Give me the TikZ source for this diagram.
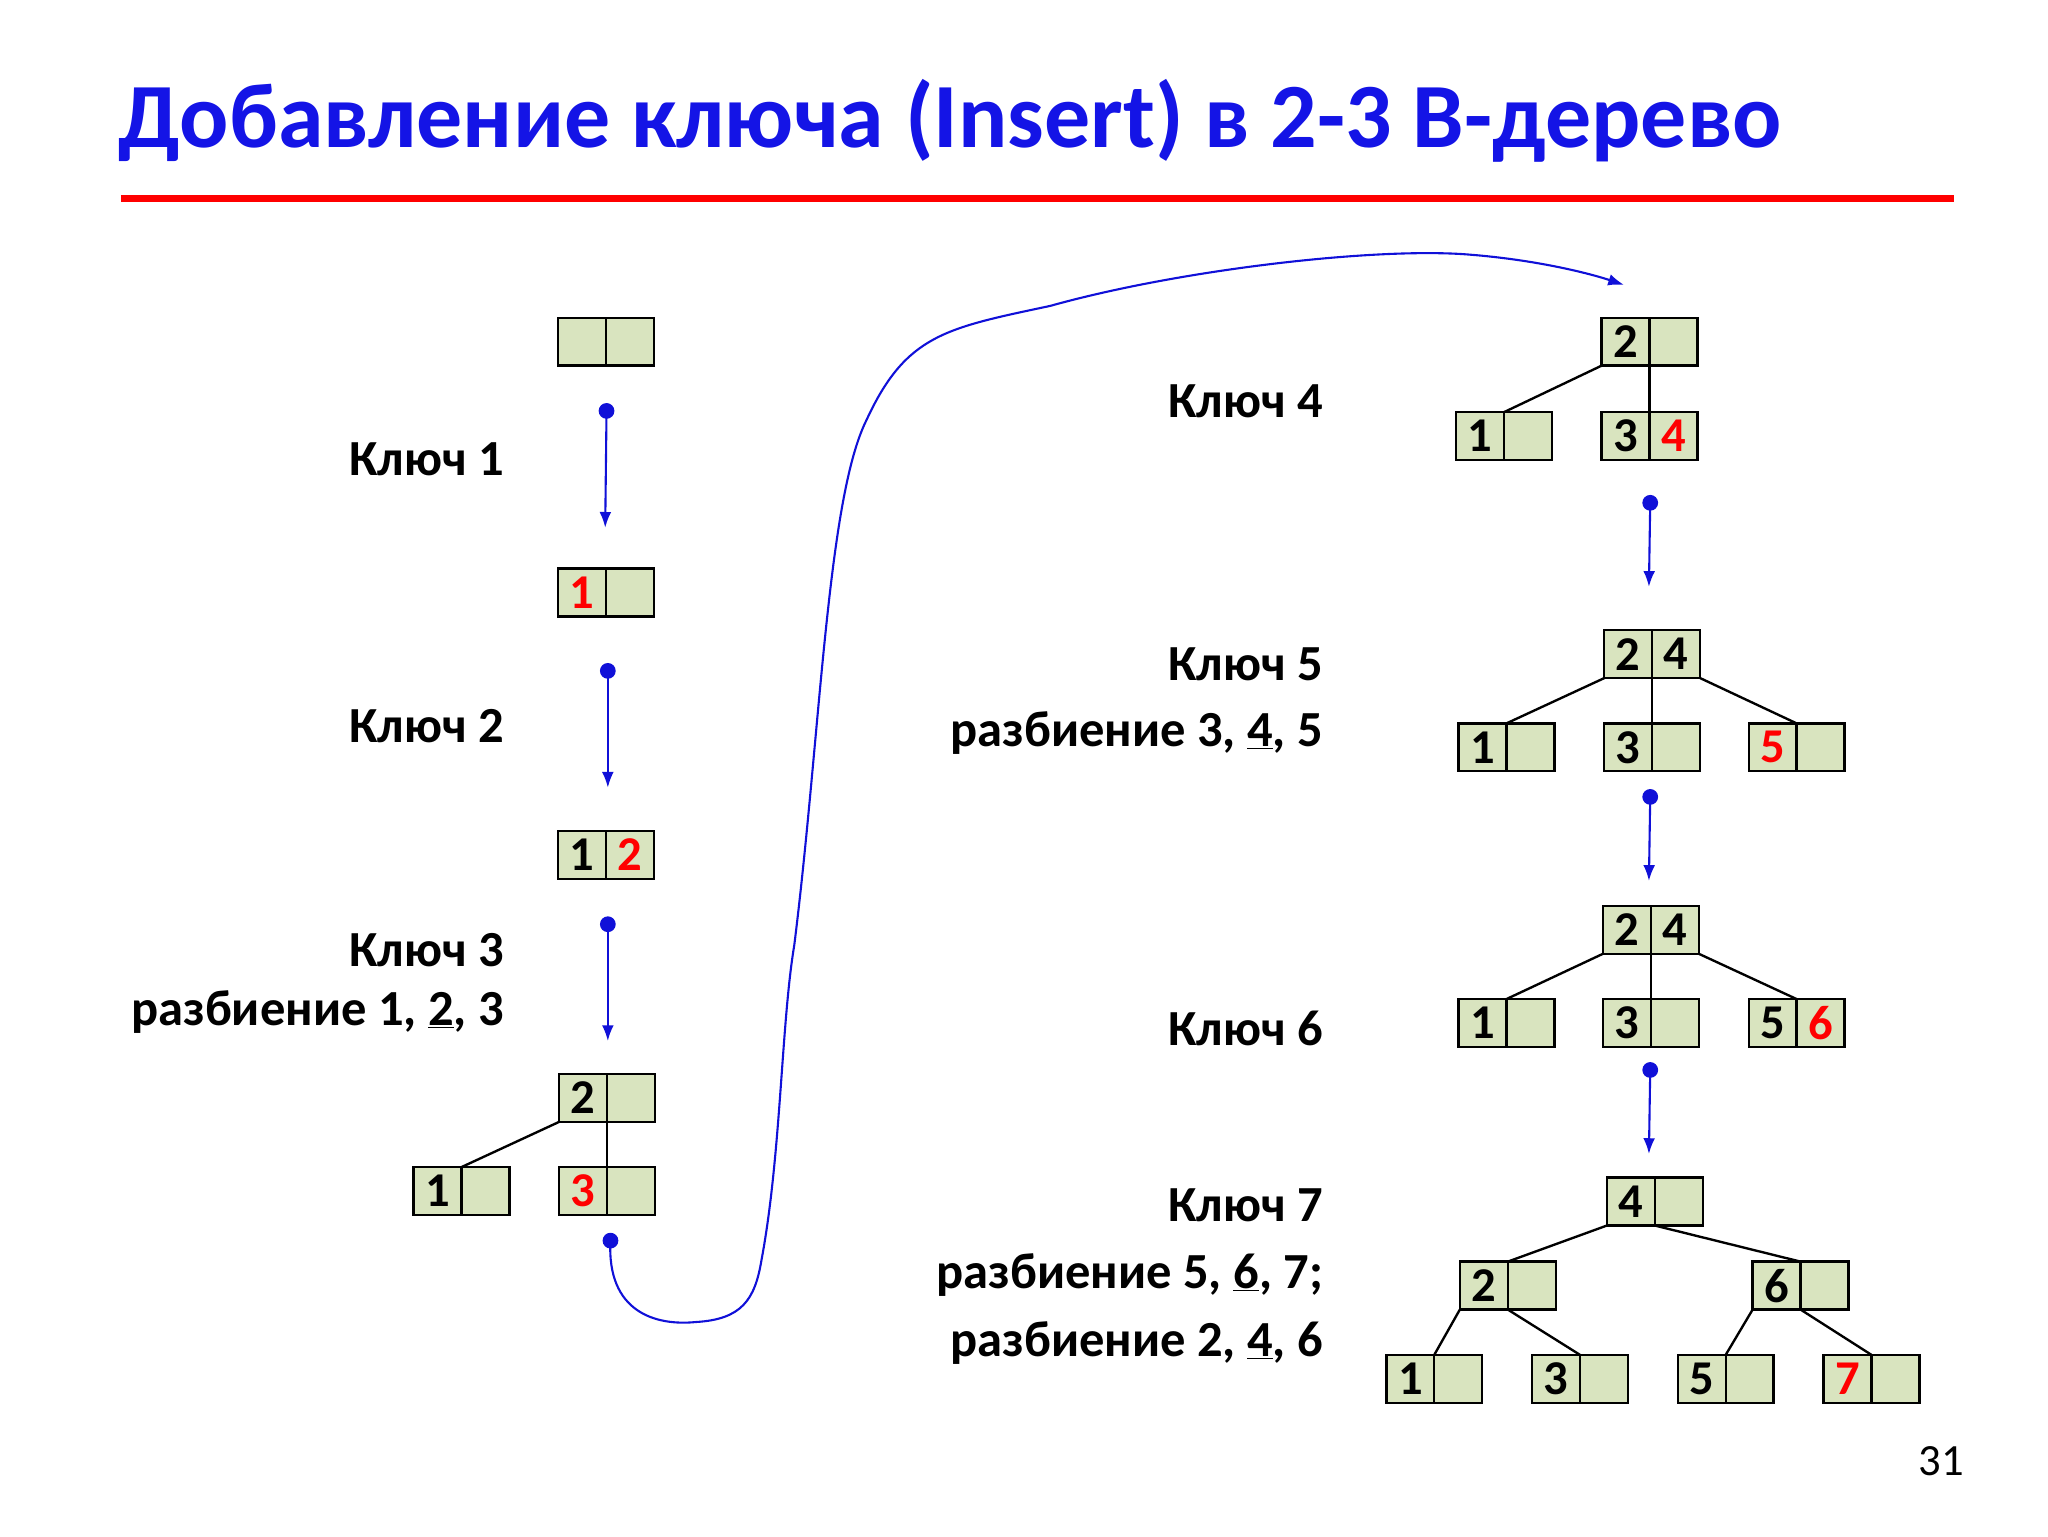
\documentclass[tikz,border=0pt]{standalone}
\usepackage{fontspec}
\setmainfont{Carlito}
\usetikzlibrary{arrows.meta}
\definecolor{cellfill}{HTML}{D9E4BF}
\definecolor{titleblue}{HTML}{1414E6}
\definecolor{arrblue}{HTML}{1010D8}
\newcommand\bnode[4]{%
  \node[cell,anchor=north west] (#1a) at #2 {#3};
  \node[cell,anchor=west] (#1b) at (#1a.east) {#4};}
\newcommand\rd[1]{\textcolor{red}{#1}}
\begin{document}
\begin{tikzpicture}[x=1pt,y=-1pt,
  cell/.style={draw,line width=1.8pt,fill=cellfill,minimum size=36.5pt,inner sep=0pt,outer sep=0pt,font=\fontsize{37}{37}\selectfont\bfseries},
  edge/.style={line width=1.8pt},
  lbl/.style={anchor=east,inner sep=0pt,font=\fontsize{38.5}{38.5}\selectfont\bfseries},
  stp/.style={arrblue,line width=1.6pt,-{Latex[length=12pt,width=9pt]}},
  dot/.style={circle,fill=arrblue,inner sep=0pt,minimum size=12pt}]
\useasboundingbox (0,0) rectangle (1560,1170);
\node[anchor=west,inner sep=0pt,text=titleblue,font=\fontsize{70}{70}\selectfont\bfseries] (title) at (90,92) {Добавление ключа (Insert) в 2-3 B-дерево};
\draw[red,line width=5pt] (92,151) -- (1488,151);
\node[anchor=east,inner sep=0pt,font=\fontsize{34}{34}\selectfont] (pg) at (1496,1113) {31};
% left column
\bnode{n0}{(425,242)}{}{}
\bnode{n1}{(425,433)}{\rd{1}}{}
\bnode{n2}{(425,633)}{1}{\rd{2}}
\bnode{t3r}{(426,818)}{2}{}
\bnode{t3a}{(315,889)}{1}{}
\bnode{t3b}{(426,889)}{\rd{3}}{}
\draw[edge] (t3ra.south west) -- (t3aa.north east);
\draw[edge] (t3ra.south east) -- (t3ba.north east);
\node[dot] (d1) at (462,313) {}; \coordinate (e1) at (461,402);
\node[dot] (d2) at (463,511) {}; \coordinate (e2) at (463,600);
\node[dot] (d3) at (463,704) {}; \coordinate (e3) at (463,793);
\draw[stp] (d1.center) -- (e1);
\draw[stp] (d2.center) -- (e2);
\draw[stp] (d3.center) -- (e3);
\node[lbl] (k1) at (384,350) {Ключ 1};
\node[lbl] (k2) at (384,553) {Ключ 2};
\node[lbl] (k3) at (384,724) {Ключ 3};
\node[lbl] (s3) at (384,771) {разбиение 1, \underline{2}, 3};
% big curve
\node[dot] (dc) at (465,945) {};
\coordinate (ec) at (1237,217);
\draw[stp] (dc.center) .. controls (462,1000) and (500,1010) .. (530,1007)
  .. controls (565,1005) and (575,990) .. (580,960)
  .. controls (595,880) and (595,780) .. (605,720)
  .. controls (625,560) and (630,380) .. (660,320)
  .. controls (690,255) and (720,250) .. (800,233)
  .. controls (900,205) and (1050,188) .. (1120,194)
  .. controls (1170,198) and (1210,208) .. (ec);
% right column
\bnode{r4r}{(1220,242)}{2}{}
\bnode{r4a}{(1109,314)}{1}{}
\bnode{r4b}{(1220,314)}{3}{\rd{4}}
\draw[edge] (r4ra.south west) -- (r4aa.north east);
\draw[edge] (r4ra.south east) -- (r4ba.north east);
\bnode{r5r}{(1222,480)}{2}{4}
\bnode{r5a}{(1111,551)}{1}{}
\bnode{r5b}{(1222,551)}{3}{}
\bnode{r5c}{(1332,551)}{\rd{5}}{}
\draw[edge] (r5ra.south west) -- (r5aa.north east);
\draw[edge] (r5ra.south east) -- (r5ba.north east);
\draw[edge] (r5rb.south east) -- (r5ca.north east);
\bnode{r6r}{(1221,690)}{2}{4}
\bnode{r6a}{(1111,761)}{1}{}
\bnode{r6b}{(1221,761)}{3}{}
\bnode{r6c}{(1332,761)}{5}{\rd{6}}
\draw[edge] (r6ra.south west) -- (r6aa.north east);
\draw[edge] (r6ra.south east) -- (r6ba.north east);
\draw[edge] (r6rb.south east) -- (r6ca.north east);
\bnode{r7r}{(1224,897)}{4}{}
\bnode{r7l}{(1112,961)}{2}{}
\bnode{r7m}{(1335,961)}{6}{}
\bnode{r7a}{(1056,1032)}{1}{}
\bnode{r7b}{(1167,1032)}{3}{}
\bnode{r7c}{(1278,1032)}{5}{}
\bnode{r7d}{(1389,1032)}{\rd{7}}{}
\draw[edge] (r7ra.south west) -- (r7la.north east);
\draw[edge] (r7ra.south east) -- (r7ma.north east);
\draw[edge] (r7la.south west) -- (r7aa.north east);
\draw[edge] (r7la.south east) -- (r7ba.north east);
\draw[edge] (r7ma.south west) -- (r7ca.north east);
\draw[edge] (r7ma.south east) -- (r7da.north east);
\node[dot] (d4) at (1257,383) {}; \coordinate (e4) at (1256,447);
\node[dot] (d5) at (1257,607) {}; \coordinate (e5) at (1256,671);
\node[dot] (d6) at (1257,815) {}; \coordinate (e6) at (1256,879);
\draw[stp] (d4.center) -- (e4);
\draw[stp] (d5.center) -- (e5);
\draw[stp] (d6.center) -- (e6);
\node[lbl] (k4) at (1008,306) {Ключ 4};
\node[lbl] (k5) at (1008,506) {Ключ 5};
\node[lbl] (s5) at (1008,558) {разбиение 3, \underline{4}, 5};
\node[lbl] (k6) at (1008,783) {Ключ 6};
\node[lbl] (k7) at (1008,918) {Ключ 7};
\node[lbl] (s7a) at (1008,971) {разбиение 5, \underline{6}, 7;};
\node[lbl] (s7b) at (1008,1023) {разбиение 2, \underline{4}, 6};
\end{tikzpicture}
\end{document}
